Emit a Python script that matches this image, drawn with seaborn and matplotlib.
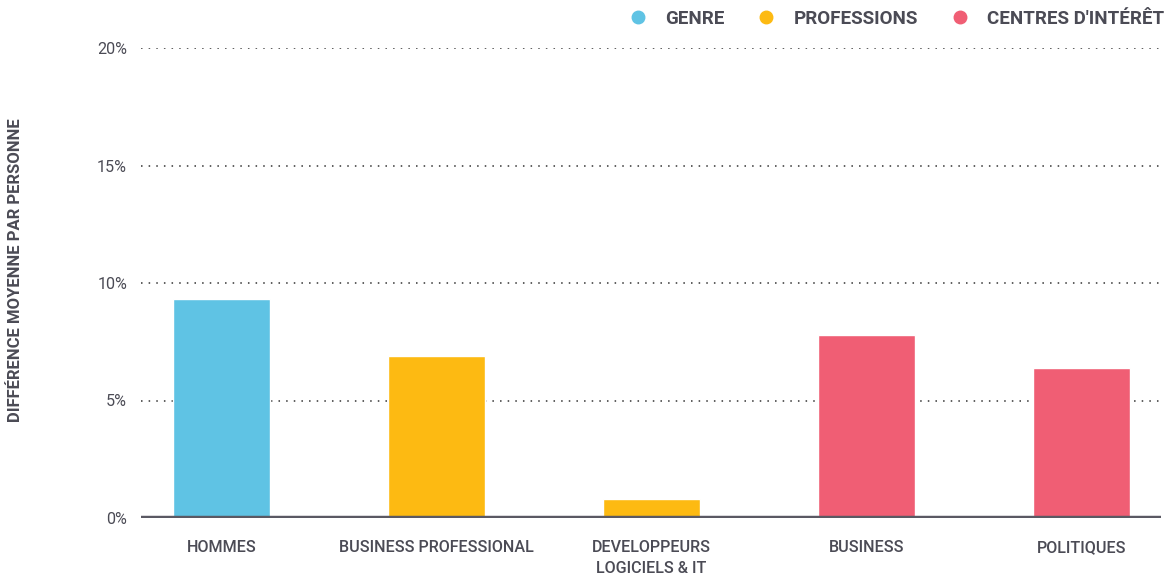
import matplotlib
matplotlib.use("Agg")
import matplotlib.pyplot as plt
from matplotlib.lines import Line2D
import seaborn as sns
import pandas as pd

categories = ["HOMMES", "BUSINESS PROFESSIONAL", "DEVELOPPEURS\nLOGICIELS & IT", "BUSINESS", "POLITIQUES"]
values = [9.3, 6.9, 0.8, 7.8, 6.4]
groups = ["GENRE", "PROFESSIONS", "PROFESSIONS", "CENTRES D'INTÉRÊT", "CENTRES D'INTÉRÊT"]
group_names = ["GENRE", "PROFESSIONS", "CENTRES D'INTÉRÊT"]
group_colors = ["#5FC3E4", "#FDBA12", "#F05E74"]
yticks = [0, 5, 10, 15, 20]
ylabel = "DIFFÉRENCE MOYENNE PAR PERSONNE"

sns.set_theme(style="white")
plt.rcParams['font.family'] = ['Roboto', 'DejaVu Sans']
txt = "#4B4B55"

df = pd.DataFrame({"cat": categories, "val": values, "grp": groups})
fig = plt.figure(figsize=(11.69, 5.76), dpi=100)
ax = fig.add_axes([141/1169, 1-518/576, 1020/1169, 470/576])
sns.barplot(data=df, x="cat", y="val", hue="grp", hue_order=group_names,
            palette=dict(zip(group_names, group_colors)), dodge=False,
            width=0.451, ax=ax, legend=False, saturation=1)
ax.set_xlim(-0.374, 4.37)
ax.set_ylim(0, 20)
ax.set_yticks(yticks)
ax.set_yticklabels([f"{t}%" for t in yticks], color=txt, fontsize=11.6)
for t in yticks[1:]:
    ax.axhline(t, color="#333333", linestyle=(0, (1, 4)), linewidth=1.1, zorder=0)
ax.axhline(0, color="#5A5963", linewidth=3.2, zorder=3)
for s in ax.spines.values():
    s.set_visible(False)
ax.tick_params(axis="both", length=0)
ax.tick_params(axis="y", pad=10)
ax.tick_params(axis="x", pad=16)
ax.set_xticks(range(len(categories)))
ax.set_xticklabels(categories, color=txt, fontsize=11.6, fontweight="medium", linespacing=1.45)
ax.set_xlabel("")
ax.set_ylabel(ylabel, color=txt, fontsize=12, fontweight="bold")
ax.yaxis.set_label_coords(-118/1020, 0.528)

handles = [Line2D([], [], marker="o", linestyle="", markersize=9, color=c) for c in group_colors]
fig.legend(handles, group_names, loc="upper right", bbox_to_anchor=(1181/1169, 1.012),
           ncol=3, frameon=False, handletextpad=0.85, columnspacing=1.63, handlelength=1.2,
           prop={"size": 13.5, "weight": "bold"}, labelcolor=txt)

fig.savefig("out.png", dpi=100)
